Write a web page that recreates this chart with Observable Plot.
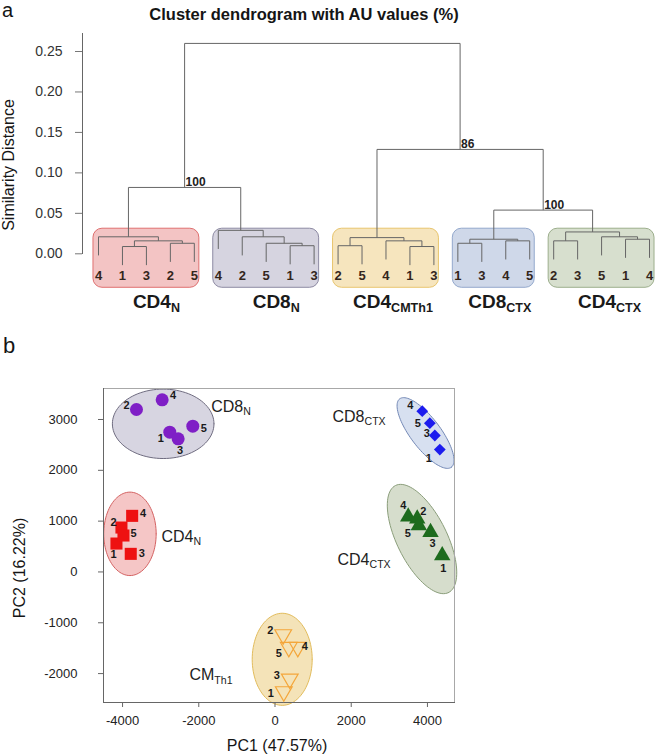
<!DOCTYPE html>
<html>
<head>
<meta charset="utf-8">
<script src="https://cdn.jsdelivr.net/npm/d3@7"></script>
<script src="https://cdn.jsdelivr.net/npm/@observablehq/plot@0.6"></script>
<style>
  html, body { margin: 0; padding: 0; background: #fff; }
  #wrap { position: relative; width: 656px; height: 755px; overflow: hidden; background: #fff; }
  #wrap > svg { position: absolute; left: 0; margin: 0; }
</style>
</head>
<body>
<div id="wrap"></div>
<script>
const FONT = "'Liberation Sans', Arial, Helvetica, sans-serif";

// ================= Panel a: dendrogram data =================
const dendroTitle = "Cluster dendrogram with AU values (%)";
const dendroYLabel = "Similarity Distance";
const distanceTicks = [0, 0.05, 0.10, 0.15, 0.20, 0.25];
const clusterNames = ["CD4_N", "CD8_N", "CD4_CMTh1", "CD8_CTX", "CD4_CTX"];
// subtree: [merge height, left, right]; a leaf is the replicate number
const treeCD4N   = [0.021, "4", [0.016, [0.009, "1", "3"], [0.013, "2", "5"]]];
const treeCD8N   = [0.029, "4", [0.021, "2", [0.013, "5", [0.010, "1", "3"]]]];
const treeCM     = [0.020, [0.010, "2", "5"], [0.016, "4", [0.009, "1", "3"]]];
const treeCD8CTX = [0.018, [0.013, "1", "3"], [0.016, "4", "5"]];
const treeCD4CTX = [0.027, [0.016, "2", "3"], [0.021, "5", [0.018, "1", "4"]]];
const clusterTrees = [treeCD4N, treeCD8N, treeCM, treeCD8CTX, treeCD4CTX];
// upper merges: [height, AU value (%), left, right]; numbers refer to clusters
const upperTree = [0.26, null, [0.082, 100, 0, 1], [0.129, 86, 2, [0.054, 100, 3, 4]]];
const leafHang = 0.023;

// ================= Panel b: PCA data =================
const pcaXLabel = "PC1 (47.57%)";
const pcaYLabel = "PC2 (16.22%)";
const pc1Ticks = [-4000, -2000, 0, 2000, 4000];
const pc2Ticks = [-2000, -1000, 0, 1000, 2000, 3000];
const pcaGroups = ["CD8_N", "CD4_N", "CM_Th1", "CD8_CTX", "CD4_CTX"];
const repCD8N = [1, 2, 3, 4, 5];
const pc1CD8N = [-2761, -3635, -2541, -2961, -2157];
const pc2CD8N = [2750, 3197, 2620, 3388, 2868];
const repCD4N = [1, 2, 3, 4, 5];
const pc1CD4N = [-4160, -4029, -3785, -3748, -3976];
const pc2CD4N = [559, 874, 356, 1104, 717];
const repCM = [1, 2, 3, 4, 5];
const pc1CM = [231, 215, 388, 598, 362];
const pc2CM = [-2354, -1232, -2104, -1482, -1482];
const repCD8CTX = [1, 3, 4, 5];
const pc1CD8CTX = [4325, 4194, 3864, 4063];
const pc2CD8CTX = [2409, 2685, 3163, 2927];
const repCD4CTX = [1, 2, 3, 4, 5];
const pc1CD4CTX = [4388, 3732, 4081, 3496, 3774];
const pc2CD4CTX = [323, 1045, 781, 1085, 913];
const pcaReps = [repCD8N, repCD4N, repCM, repCD8CTX, repCD4CTX];
const pcaPC1 = [pc1CD8N, pc1CD4N, pc1CM, pc1CD8CTX, pc1CD4CTX];
const pcaPC2 = [pc2CD8N, pc2CD4N, pc2CM, pc2CD8CTX, pc2CD4CTX];
// group ellipses: centre and two conjugate semi-axes, in PC units
const ellipseCenterPC1 = [-2934, -3806, 189, 3950, 3858];
const ellipseCenterPC2 = [2915, 750, -1719, 2734, 648];
const ellipseAxisA = [[1333, 0], [688, 0], [787, 0], [678, -673], [696, -1053]];
const ellipseAxisB = [[0, 683], [0, 821], [0, 906], [-314, -178], [-588, -219]];

// ================= Layout & style (not data) =================
const LA = { top: 0, width: 656, height: 310, mL: 82, mR: 0, mT: 33, mB: 57,
  xRange: [98, 649], yRange: [253.3, 51], boxPad: 0.21, boxTop: 0.031, boxBottom: -0.042,
  leafLabelY: -0.027, groupLabelY: -0.059 };
const groupLabelDx = [10, 10, 7, 6, 8];
const boxFill   = ["#f3c4c4", "#d6d4e0", "#f6e5be", "#cfd8e9", "#d7dfce"];
const boxStroke = ["#df7070", "#8d8aa3", "#e8c56e", "#93a8cc", "#9cae8c"];
const LB = { top: 310, width: 656, height: 445, mL: 103, mR: 202, mT: 78, mB: 53,
  xDomain: [-4500, 4710], yDomain: [-2569, 3610] };
const ellFill   = ["#d7d5e1", "#f5c6c6", "#f4e3b8", "#d7e0f0", "#d6ddcc"];
const ellStroke = ["#6f6c80", "#d46262", "#e2bc5c", "#7489b6", "#8b9e7b"];
const markColor = ["#7f1fc6", "#ee1111", "#f4a63a", "#1c1cee", "#1d6b1d"];
const downTriangle = { draw(ctx, size) {
  const y = -Math.sqrt(size / (Math.sqrt(3) * 3));
  ctx.moveTo(0, -2 * y); ctx.lineTo(-Math.sqrt(3) * y, y); ctx.lineTo(Math.sqrt(3) * y, y); ctx.closePath();
} };
const markSymbol = ["circle", "square", downTriangle, "diamond2", "triangle"];
const markR = [6.5, 6.8, 6.2, 5.3, 6.1];
const markHollow = [false, false, true, false, false];
const groupLabelAt = [[-1675, 3256], [-2979, 697], [-2244, -2030], [1509, 3059], [1640, 244]];
const repLabelOffset = [
  [[-9, 6], [-10, -4], [2, 12], [11, -4], [11, 2]],
  [[-3, 11], [-8, -5], [11, 0], [11, -2], [10, -2]],
  [[-13, 2], [-13, -4], [-13, -3], [7, -1], [-10, 6]],
  [[-11, 9], [-8, -2], [-12, -6], [-12, 0]],
  [[1, 13], [6, -7], [2, 11], [-5, -11], [-11, 8]]
];

// ================= Dendrogram layout =================
const segs = [], leaves = [], auLabels = [];
let leafCounter = 0;
function addMerge(h, A, B) {
  segs.push({ x1: A.x, x2: B.x, y1: h, y2: h });
  for (const C of [A, B]) segs.push({ x1: C.x, x2: C.x, y1: h, y2: C.h == null ? h - leafHang : C.h });
}
function layoutCluster(node, g) {
  if (typeof node === "string") {
    const x = leafCounter++;
    leaves.push({ x, label: node, group: g });
    return { x, h: null };
  }
  const [h, a, b] = node;
  const A = layoutCluster(a, g), B = layoutCluster(b, g);
  addMerge(h, A, B);
  return { x: (A.x + B.x) / 2, h };
}
function layoutUpper(node) {
  if (typeof node === "number") return layoutCluster(clusterTrees[node], node);
  const [h, au, a, b] = node;
  const A = layoutUpper(a), B = layoutUpper(b);
  addMerge(h, A, B);
  const x = (A.x + B.x) / 2;
  if (au != null) auLabels.push({ x, h, au });
  return { x, h };
}
layoutUpper(upperTree);
const groupBoxes = clusterNames.map((name, g) => {
  const xs = leaves.filter(d => d.group === g).map(d => d.x);
  return { g, name, x0: d3.min(xs), x1: d3.max(xs) };
});

const plotA = Plot.plot({
  width: LA.width, height: LA.height,
  marginLeft: LA.mL, marginRight: LA.mR, marginTop: LA.mT, marginBottom: LA.mB,
  x: { domain: [0, leaves.length - 1], range: LA.xRange, axis: null },
  y: { domain: [0, 0.25], range: LA.yRange },
  style: { fontFamily: FONT, background: "transparent", overflow: "visible", color: "#222" },
  marks: [
    ...groupBoxes.map(b => Plot.rect([b], {
      x1: d => d.x0 - LA.boxPad, x2: d => d.x1 + LA.boxPad,
      y1: () => LA.boxBottom, y2: () => LA.boxTop,
      fill: boxFill[b.g], stroke: boxStroke[b.g], strokeWidth: 1, rx: 9
    })),
    Plot.link(segs, { x1: "x1", y1: "y1", x2: "x2", y2: "y2", stroke: "#666", strokeWidth: 1 }),
    Plot.text(leaves, { x: "x", y: () => LA.leafLabelY, text: "label", fontWeight: "bold", fontSize: 13, fill: "#33261c" }),
    ...groupBoxes.map(b => Plot.text([b], { x: d => (d.x0 + d.x1) / 2, y: () => LA.groupLabelY, text: "name", dx: groupLabelDx[b.g], fontWeight: "bold", fontSize: 19, fill: "#1a1a1a" })),
    Plot.text(auLabels, { x: "x", y: "h", text: d => String(d.au), textAnchor: "start", lineAnchor: "bottom", dx: 1, dy: -1, fontWeight: "bold", fontSize: 12, fill: "#222" }),
    Plot.axisY(distanceTicks, { tickFormat: d3.format(".2f"), tickSize: 7, tickPadding: 13, fontSize: 14, label: null, stroke: "#777", fill: "#333" }),
    Plot.frame({ anchor: "left", stroke: "#666" })
  ]
});

// ================= PCA =================
const pts = [];
pcaGroups.forEach((g, gi) => pcaReps[gi].forEach((r, j) => pts.push({ gi, rep: r, pc1: pcaPC1[gi][j], pc2: pcaPC2[gi][j], off: repLabelOffset[gi][j] })));
function ellipse(gi) {
  const out = [], a = ellipseAxisA[gi], b = ellipseAxisB[gi];
  for (let k = 0; k <= 96; k++) {
    const t = 2 * Math.PI * k / 96;
    out.push({ pc1: ellipseCenterPC1[gi] + a[0] * Math.cos(t) + b[0] * Math.sin(t),
               pc2: ellipseCenterPC2[gi] + a[1] * Math.cos(t) + b[1] * Math.sin(t) });
  }
  return out;
}
const plainNum = d => String(d);
const plotB = Plot.plot({
  width: LB.width, height: LB.height,
  marginLeft: LB.mL, marginRight: LB.mR, marginTop: LB.mT, marginBottom: LB.mB,
  x: { domain: LB.xDomain, axis: null },
  y: { domain: LB.yDomain, axis: null },
  style: { fontFamily: FONT, background: "transparent", overflow: "visible", color: "#222" },
  marks: [
    ...pcaGroups.map((g, gi) => Plot.line(ellipse(gi), { x: "pc1", y: "pc2", fill: ellFill[gi], stroke: ellStroke[gi], strokeWidth: 1, curve: "linear" })),
    Plot.frame({ stroke: "#a8a8a8" }),
    Plot.frame({ anchor: "left", stroke: "#666" }),
    Plot.frame({ anchor: "bottom", stroke: "#666" }),
    Plot.axisX(pc1Ticks, { tickFormat: plainNum, tickSize: 5, tickPadding: 8, fontSize: 13, label: null, stroke: "#666", fill: "#222" }),
    Plot.axisY(pc2Ticks, { tickFormat: plainNum, tickSize: 5, tickPadding: 21, fontSize: 13, label: null, stroke: "#666", fill: "#222" }),
    ...pcaGroups.map((g, gi) => Plot.dot(pts.filter(p => p.gi === gi), {
      x: "pc1", y: "pc2", symbol: markSymbol[gi], r: markR[gi],
      fill: markHollow[gi] ? "none" : markColor[gi],
      stroke: markHollow[gi] ? markColor[gi] : "none",
      strokeWidth: 1.2
    })),
    ...pts.map(p => Plot.text([p], { x: "pc1", y: "pc2", text: d => String(d.rep), dx: p.off[0], dy: p.off[1], fontSize: 11, fontWeight: "bold", fill: "#1a1a1a" })),
    Plot.text(pcaGroups.map((g, gi) => ({ g, pc1: groupLabelAt[gi][0], pc2: groupLabelAt[gi][1] })),
      { x: "pc1", y: "pc2", text: "g", textAnchor: "start", fontSize: 16, fill: "#222" })
  ]
});

// subscripts: "CD4_N" -> CD4 with subscript N
function subscriptify(svg) {
  svg.querySelectorAll("text").forEach(t => {
    const s = t.textContent;
    if (!s.includes("_") || t.querySelector("tspan")) return;
    const [main, sub] = s.split("_");
    t.textContent = "";
    t.appendChild(document.createTextNode(main));
    const ts = document.createElementNS("http://www.w3.org/2000/svg", "tspan");
    ts.setAttribute("font-size", "66%");
    ts.setAttribute("dy", "0.33em");
    ts.textContent = sub;
    t.appendChild(ts);
  });
}

const wrap = document.getElementById("wrap");
plotA.style.top = LA.top + "px";
plotB.style.top = LB.top + "px";
subscriptify(plotA);
subscriptify(plotB);
wrap.appendChild(plotA);
wrap.appendChild(plotB);

// free-standing titles and axis labels
const NS = "http://www.w3.org/2000/svg";
const over = document.createElementNS(NS, "svg");
over.setAttribute("width", 656); over.setAttribute("height", 755);
over.style.position = "absolute"; over.style.left = "0"; over.style.top = "0";
over.style.pointerEvents = "none";
over.setAttribute("font-family", FONT);
const labels = [
  { text: "a", x: 2, y: 17, size: 20 },
  { text: dendroTitle, x: 304, y: 20, size: 16.5, weight: "bold", anchor: "middle" },
  { text: dendroYLabel, x: 14, y: 165, size: 16, anchor: "middle", rotate: -90 },
  { text: "b", x: 3, y: 353, size: 22 },
  { text: pcaXLabel, x: 277, y: 751, size: 16, anchor: "middle" },
  { text: pcaYLabel, x: 25, y: 568, size: 16, anchor: "middle", rotate: -90 }
];
for (const l of labels) {
  const t = document.createElementNS(NS, "text");
  t.setAttribute("transform", `translate(${l.x},${l.y})` + (l.rotate ? ` rotate(${l.rotate})` : ""));
  t.setAttribute("font-size", l.size);
  t.setAttribute("fill", "#151515");
  if (l.weight) t.setAttribute("font-weight", l.weight);
  if (l.anchor) t.setAttribute("text-anchor", l.anchor);
  t.textContent = l.text;
  over.appendChild(t);
}
wrap.appendChild(over);
</script>
</body>
</html>
